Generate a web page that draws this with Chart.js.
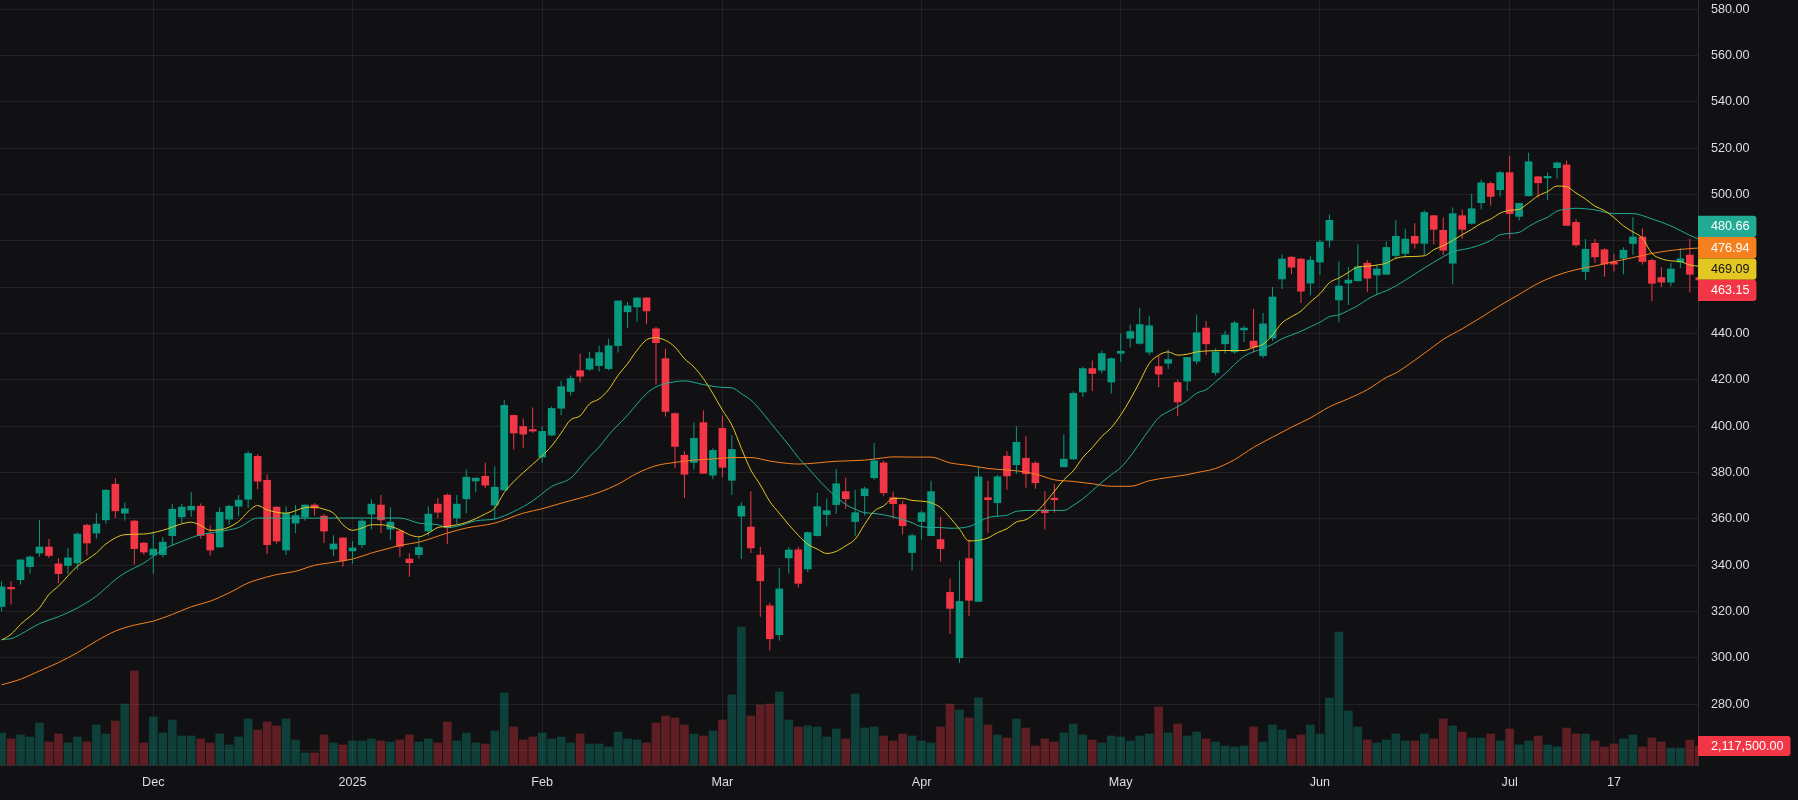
<!DOCTYPE html>
<html>
<head>
<meta charset="utf-8">
<script src="https://cdn.jsdelivr.net/npm/chart.js@4.4.1/dist/chart.umd.min.js"></script>
<style>
  html, body { margin: 0; padding: 0; background: #111113; }
  #wrap { width: 1798px; height: 800px; }
</style>
</head>
<body>
<div id="wrap"><canvas id="priceChart" width="1798" height="800"></canvas></div>
<script>
// daily candles, index 0 = first visible session (Dec 2 is index 16, last one is cut by the axis)
const opens = [
  322.2, 330.5, 333.8, 339.4, 345.3, 347.9, 340.6, 339.9, 341.0, 357.3,
  353.9, 359.6, 375.0, 362.5, 359.1, 349.6, 344.4, 344.6, 352.8, 360.9,
  363.9, 365.5, 353.5, 347.9, 359.9, 365.5, 368.5, 387.0, 376.7, 365.1,
  346.6, 358.2, 360.8, 366.0, 361.2, 347.0, 351.8, 346.2, 348.9, 362.1,
  366.0, 355.6, 354.8, 342.7, 344.6, 354.8, 366.4, 370.3, 360.4, 368.7,
  376.4, 378.4, 366.0, 372.5, 404.7, 399.9, 398.6, 386.7, 396.2, 407.8,
  415.0, 424.0, 424.6, 426.2, 424.9, 434.8, 449.4, 451.5, 455.4, 442.1,
  429.2, 405.5, 387.5, 384.4, 401.6, 378.9, 399.1, 376.7, 361.2, 356.5,
  344.4, 322.5, 310.0, 343.2, 346.7, 338.4, 352.8, 361.9, 366.2, 371.8,
  358.9, 370.0, 377.8, 384.2, 369.2, 366.2, 345.5, 358.9, 352.8, 351.1,
  328.3, 300.1, 342.9, 324.4, 369.2, 367.0, 387.1, 383.4, 386.2, 384.1,
  363.9, 369.0, 382.5, 385.9, 414.8, 424.9, 424.2, 419.1, 431.5, 438.0,
  435.8, 432.0, 425.8, 427.2, 418.9, 419.5, 428.1, 442.4, 423.2, 435.6,
  432.1, 441.6, 436.8, 430.5, 438.1, 463.6, 473.0, 472.2, 461.8, 470.9,
  480.3, 454.5, 461.8, 462.8, 470.4, 465.3, 465.6, 473.7, 474.6, 482.0,
  479.0, 490.9, 484.6, 470.4, 490.9, 487.6, 496.5, 504.8, 502.1, 509.5,
  490.6, 499.5, 507.7, 507.2, 511.6, 512.8, 488.0, 466.8, 479.0, 476.2,
  470.9, 472.5, 478.9, 481.7, 471.6, 464.2, 462.2, 470.9, 473.9, 464.2
];
const highs = [
  333.1, 333.1, 342.7, 344.2, 359.5, 351.3, 343.2, 347.5, 354.2, 357.8,
  362.5, 372.8, 377.6, 367.2, 359.5, 350.0, 354.6, 352.2, 366.5, 366.5,
  371.5, 366.7, 357.2, 365.1, 366.1, 370.3, 389.2, 387.9, 379.3, 365.5,
  365.5, 366.0, 366.2, 366.8, 362.1, 353.0, 352.0, 350.5, 360.1, 368.5,
  370.3, 365.1, 355.2, 345.2, 352.0, 365.5, 369.0, 371.0, 370.3, 381.4,
  378.0, 384.4, 382.7, 411.5, 405.0, 403.4, 408.1, 399.9, 408.5, 419.7,
  421.9, 431.3, 432.2, 434.8, 437.8, 454.3, 453.7, 455.6, 455.8, 442.9,
  433.5, 406.0, 389.2, 401.6, 406.8, 390.5, 404.7, 396.1, 367.2, 372.0,
  347.9, 323.8, 338.9, 347.9, 348.0, 354.6, 371.3, 368.7, 381.6, 377.8,
  372.6, 373.9, 392.8, 385.1, 371.8, 367.9, 353.7, 363.6, 376.5, 361.0,
  334.3, 342.1, 351.1, 382.9, 376.5, 379.1, 389.2, 400.0, 395.7, 384.9,
  372.0, 375.1, 396.6, 415.1, 425.8, 428.4, 432.7, 429.7, 440.0, 443.9,
  451.2, 447.7, 430.5, 433.1, 420.2, 429.9, 448.2, 445.4, 433.7, 441.1,
  445.4, 443.4, 450.7, 448.9, 460.1, 474.2, 473.4, 472.6, 473.4, 480.4,
  491.4, 471.2, 468.7, 478.5, 471.7, 469.6, 479.8, 488.9, 485.3, 487.6,
  493.2, 491.2, 490.1, 494.4, 493.6, 500.4, 506.5, 505.6, 510.2, 516.7,
  496.5, 518.1, 508.1, 509.5, 514.2, 514.6, 489.4, 480.8, 480.8, 476.8,
  474.4, 477.3, 490.2, 485.4, 472.3, 468.6, 470.5, 476.8, 480.8, 464.8
];
const lows = [
  320.2, 323.1, 331.7, 336.4, 343.7, 343.2, 332.4, 336.4, 338.1, 344.2,
  351.5, 357.9, 360.4, 359.2, 340.3, 344.6, 336.4, 343.4, 348.5, 358.2,
  360.9, 351.5, 344.2, 347.6, 357.5, 361.2, 364.7, 372.8, 344.9, 349.3,
  344.4, 353.9, 359.2, 361.5, 349.6, 344.0, 339.4, 340.7, 347.5, 355.6,
  353.9, 350.9, 343.7, 335.1, 342.9, 352.8, 360.4, 349.2, 357.8, 362.5,
  371.5, 373.3, 359.8, 372.3, 390.0, 390.6, 397.1, 384.2, 395.8, 404.8,
  413.3, 419.0, 424.0, 423.7, 424.2, 431.8, 442.5, 445.1, 444.2, 418.0,
  404.2, 381.9, 369.0, 381.4, 379.5, 377.1, 378.0, 370.3, 342.7, 345.3,
  317.8, 303.2, 307.5, 336.3, 330.4, 337.1, 352.4, 356.7, 362.3, 364.4,
  352.8, 361.4, 376.9, 370.0, 360.1, 353.3, 337.8, 351.1, 352.6, 341.6,
  310.3, 297.8, 318.0, 324.2, 354.1, 360.8, 372.6, 379.5, 373.5, 373.0,
  355.4, 362.7, 382.3, 385.7, 412.6, 415.2, 422.9, 414.2, 427.7, 434.0,
  435.3, 430.7, 416.9, 424.7, 404.4, 415.2, 426.8, 430.8, 421.9, 431.3,
  431.3, 436.4, 431.9, 429.5, 436.8, 459.3, 465.6, 453.2, 456.6, 465.3,
  477.2, 444.9, 452.3, 462.5, 458.0, 456.9, 465.3, 472.3, 472.7, 476.7,
  473.9, 478.5, 473.9, 461.3, 480.9, 487.1, 493.6, 495.3, 499.2, 481.1,
  488.8, 499.3, 498.8, 497.6, 507.0, 486.4, 477.3, 463.1, 470.6, 464.5,
  466.8, 465.6, 473.9, 469.8, 454.0, 460.1, 460.4, 468.2, 457.8, 462.9
];
const closes = [
  330.7, 329.8, 342.3, 343.6, 347.9, 344.2, 336.4, 343.2, 353.5, 349.6,
  357.8, 372.4, 363.5, 364.4, 347.2, 345.7, 347.0, 350.0, 364.2, 365.1,
  365.5, 352.9, 346.6, 362.9, 365.5, 368.1, 388.3, 376.3, 348.9, 350.5,
  362.4, 361.5, 366.0, 364.7, 354.8, 349.2, 342.0, 347.5, 359.1, 366.4,
  359.6, 358.6, 348.2, 341.1, 347.7, 362.1, 362.9, 356.3, 366.4, 378.0,
  377.6, 374.6, 373.7, 409.0, 397.1, 396.6, 397.9, 397.8, 407.7, 417.1,
  420.6, 421.6, 429.2, 431.8, 434.8, 454.1, 452.0, 455.4, 449.8, 436.1,
  406.4, 391.3, 379.3, 394.8, 379.7, 389.6, 382.3, 390.0, 365.5, 347.5,
  333.3, 308.3, 329.8, 346.6, 332.2, 354.1, 365.3, 363.6, 375.2, 368.7,
  362.7, 373.0, 385.1, 371.3, 366.6, 357.1, 352.8, 362.7, 371.8, 347.2,
  321.4, 324.4, 324.9, 378.2, 368.3, 378.2, 378.6, 393.1, 379.5, 375.6,
  362.7, 368.3, 385.8, 414.2, 424.9, 422.8, 431.4, 429.2, 432.4, 440.9,
  443.9, 443.4, 422.5, 428.8, 410.5, 429.7, 440.4, 435.6, 432.1, 439.4,
  444.6, 442.4, 434.1, 444.2, 455.8, 472.2, 468.7, 458.3, 471.7, 479.5,
  488.9, 460.5, 463.1, 468.8, 463.9, 467.9, 477.2, 482.0, 480.8, 479.0,
  492.3, 485.0, 476.0, 491.8, 485.0, 493.9, 505.1, 499.2, 509.5, 491.8,
  496.2, 514.2, 505.1, 507.9, 513.7, 486.7, 478.3, 476.4, 473.1, 470.0,
  470.0, 476.0, 481.7, 471.1, 461.7, 462.2, 467.9, 472.3, 465.6, 463.15
];
// volume in thousands of shares
const volumesK = [
  3566, 2898, 3344, 3121, 4681, 2563, 3455, 2452, 3121, 2563,
  4458, 3455, 4904, 6798, 10476, 2452, 5350, 3566, 5015, 3232,
  3232, 2898, 2452, 3455, 2229, 3121, 5127, 3901, 4792, 4347,
  5127, 2786, 1337, 1337, 3344, 2452, 2229, 2675, 2675, 2898,
  2675, 2563, 2786, 3344, 2563, 2898, 2452, 4792, 2675, 3566,
  2452, 2340, 3789, 8024, 4235, 2786, 3121, 3566, 2898, 3121,
  2452, 3455, 2340, 2340, 2006, 3678, 2898, 2786, 2452, 4681,
  5461, 5238, 4458, 3455, 3232, 3789, 5015, 7802, 15380, 5461,
  6687, 6798, 8136, 5015, 4235, 4347, 4235, 3121, 4012, 2898,
  7913, 4124, 4235, 3232, 2675, 3455, 3232, 2675, 2452, 4235,
  6798, 6130, 5238, 7467, 4458, 3344, 3009, 5127, 4124, 2118,
  2898, 2563, 3566, 4569, 3344, 2786, 2452, 3232, 3121, 2675,
  3232, 3455, 6464, 3566, 4569, 3232, 3678, 2898, 2563, 2118,
  2006, 2118, 4235, 2563, 4458, 3901, 2898, 3344, 4458, 3455,
  7467, 14823, 6018, 4235, 2786, 2452, 2786, 3455, 2675, 2675,
  3455, 2898, 5127, 4347, 3678, 3009, 3009, 3455, 2675, 4012,
  2229, 2675, 3232, 2229, 2006, 4124, 3455, 3455, 2675, 2006,
  2340, 2898, 3344, 2006, 3009, 2563, 1895, 1895, 2786, 2117.5
];

// moving averages: [candle index, value]
const maFast = [
  [0,307.7],[1,310.2],[2,314.5],[4,321.6],[5,327.4],[6,331.0],[8,339.6],[9,342.4],[10,345.3],[11,349.2],
  [13,353.2],[15,353.5],[17,355.1],[19,357.9],[20,358.6],[21,357.2],[22,355.1],[23,355.3],[25,358.9],[26,363.2],
  [27,365.8],[28,363.9],[30,362.5],[32,364.9],[33,365.1],[34,364.2],[35,362.5],[36,357.5],[37,355.1],[38,356.1],
  [39,357.5],[40,357.5],[41,356.8],[42,355.3],[43,353.2],[44,352.3],[45,353.9],[46,356.3],[47,356.8],[49,358.5],
  [51,362.2],[52,364.7],[53,371.4],[54,376.1],[55,380.0],[57,387.3],[58,391.5],[59,397.1],[60,402.8],[61,404.5],
  [62,409.7],[63,411.8],[64,415.8],[65,422.0],[66,427.0],[67,432.8],[68,437.3],[69,438.2],[70,437.1],[71,434.2],
  [72,429.2],[73,425.6],[74,420.6],[75,414.1],[76,407.0],[77,400.5],[78,390.5],[79,381.1],[80,374.7],[81,367.5],
  [82,362.5],[83,357.5],[84,353.0],[85,349.1],[86,347.0],[87,345.1],[88,346.0],[89,348.4],[90,351.3],[91,357.7],
  [92,363.4],[93,365.6],[94,368.9],[95,368.9],[96,368.0],[97,367.7],[98,367.0],[99,364.9],[100,360.6],[101,355.6],
  [102,350.5],[103,350.8],[104,351.8],[105,354.1],[106,355.8],[107,358.7],[108,359.7],[109,362.6],[110,366.9],[111,371.9],
  [112,376.9],[113,380.8],[114,386.5],[115,390.8],[116,395.6],[117,399.4],[118,404.9],[119,411.6],[120,419.2],[121,427.1],
  [122,430.7],[123,432.1],[124,430.7],[125,431.1],[126,432.1],[127,432.5],[129,432.7],[131,432.7],[132,434.1],[133,435.4],
  [134,439.4],[135,444.6],[136,447.3],[137,449.7],[138,453.7],[139,457.2],[140,462.0],[141,464.0],[142,466.4],[143,468.8],
  [144,469.1],[145,469.6],[146,470.4],[147,472.5],[148,473.2],[150,473.6],[151,476.2],[152,478.0],[153,480.2],[154,482.7],
  [155,485.0],[156,487.6],[157,489.4],[158,492.0],[159,493.2],[160,493.7],[161,496.4],[162,499.5],[163,501.3],[164,503.7],
  [165,503.4],[166,500.7],[167,498.1],[168,495.0],[169,493.1],[170,490.1],[171,486.5],[172,483.9],[173,481.2],[174,474.6],
  [175,472.3],[176,471.4],[177,471.1],[178,469.6],[179,469.09]
];
const maMid = [
  [0,308.0],[1,308.3],[2,310.2],[4,314.8],[6,317.8],[8,321.6],[10,326.7],[12,333.8],[13,336.7],[15,341.0],
  [17,346.7],[19,350.3],[21,353.2],[23,354.6],[25,356.3],[27,360.4],[31,360.3],[35,360.4],[39,360.4],[42,360.4],
  [44,358.2],[46,357.5],[47,356.3],[48,356.8],[50,359.2],[52,360.0],[54,363.2],[56,367.8],[58,374.0],[60,377.6],
  [61,382.0],[62,386.9],[63,391.0],[64,396.2],[66,404.8],[68,414.1],[69,417.0],[70,418.4],[72,419.6],[74,418.0],
  [76,416.8],[77,416.6],[78,414.1],[79,411.3],[80,407.0],[81,401.9],[82,396.9],[83,391.9],[84,386.5],[85,382.1],
  [87,373.2],[89,366.3],[90,364.2],[91,362.7],[92,362.4],[94,360.9],[96,358.4],[97,356.6],[99,356.3],[100,356.0],
  [102,356.7],[104,360.6],[105,361.2],[106,361.6],[107,363.3],[109,363.7],[112,363.7],[113,365.9],[114,368.7],[115,372.2],
  [116,375.8],[117,379.1],[118,382.2],[119,387.0],[120,392.7],[121,398.5],[122,403.7],[123,406.3],[124,408.5],[125,411.0],
  [126,414.3],[127,415.8],[128,419.2],[129,422.7],[130,426.7],[131,430.2],[132,432.2],[133,433.5],[134,435.4],[135,437.8],
  [136,439.4],[137,441.0],[138,443.0],[139,444.9],[140,447.3],[141,448.1],[142,450.0],[143,452.1],[144,454.8],[145,456.9],
  [146,458.5],[147,460.6],[148,463.1],[150,468.3],[152,473.2],[153,475.3],[155,477.1],[157,480.2],[158,482.7],[160,483.7],
  [161,486.2],[162,488.5],[163,490.2],[164,492.9],[165,493.7],[166,494.1],[168,493.4],[170,491.8],[172,491.8],[174,489.5],
  [176,486.5],[177,484.5],[178,482.4],[179,480.66]
];
const maSlow = [
  [0,288.4],[2,290.8],[4,294.4],[6,298.0],[8,302.3],[10,307.3],[12,311.6],[14,314.2],[16,315.9],[18,318.8],
  [20,322.1],[22,324.5],[24,328.1],[26,332.4],[27,333.8],[29,336.0],[31,337.4],[33,340.0],[35,341.3],[37,342.7],
  [39,345.3],[41,347.5],[42,348.6],[44,350.0],[47,353.9],[49,356.1],[52,358.2],[55,362.5],[57,364.4],[59,366.8],
  [61,369.0],[63,371.5],[65,375.0],[67,379.7],[69,383.0],[71,384.4],[73,385.4],[75,385.9],[77,386.5],[79,386.5],
  [81,385.0],[82,384.4],[84,383.7],[88,384.9],[91,385.4],[93,386.4],[94,386.8],[96,386.7],[98,386.7],[100,384.2],
  [102,383.1],[104,381.8],[105,381.4],[107,380.8],[109,379.4],[111,376.9],[113,376.2],[115,375.2],[117,374.1],[119,374.1],
  [121,376.5],[123,377.9],[125,379.1],[126,380.0],[128,381.8],[130,385.6],[132,390.9],[134,395.3],[136,399.6],[138,403.6],
  [140,408.4],[142,411.9],[144,415.8],[146,421.1],[147,423.0],[149,428.5],[151,434.5],[152,437.5],[154,442.1],[156,447.0],
  [158,452.2],[160,456.9],[162,461.7],[164,465.2],[166,467.6],[168,469.2],[170,471.1],[172,472.8],[174,474.6],[176,475.9],
  [178,476.7],[179,476.94]
];

const timeTickIdx = [16, 37, 57, 76, 97, 118, 139, 159, 170];
const timeTickLabels = ['Dec', '2025', 'Feb', 'Mar', 'Apr', 'May', 'Jun', 'Jul', '17'];
const priceTicks = [260, 280, 300, 320, 340, 360, 380, 400, 420, 440, 460, 480, 500, 520, 540, 560, 580];

const UP = '#089981';
const DOWN = '#f23645';
const GRID = 'rgba(255,255,255,0.075)';
const TEXT = '#dcdde0';
const FONT = 'Arial, "Liberation Sans", sans-serif';
const FONT_SIZE = 12.6;

const isUp = closes.map((c, i) => c >= opens[i]);
const candleColors = isUp.map(u => (u ? UP : DOWN));
const volColors = isUp.map(u => (u ? 'rgba(8,153,129,0.35)' : 'rgba(242,54,69,0.35)'));

// paint the dark background
const bgPlugin = {
  id: 'bg',
  beforeDraw(chart) {
    const ctx = chart.ctx;
    ctx.save();
    ctx.fillStyle = '#111113';
    ctx.fillRect(0, 0, chart.width, chart.height);
    ctx.restore();
  }
};

// coloured value tags on the price axis
const tagPlugin = {
  id: 'tags',
  afterDraw(chart) {
    const { ctx, chartArea, scales } = chart;
    const h = 21.3;
    const tags = [
      { value: maMid[maMid.length - 1][1], bg: '#22ab94', fg: '#ffffff' },
      { value: maSlow[maSlow.length - 1][1], bg: '#f7801e', fg: '#ffffff' },
      { value: maFast[maFast.length - 1][1], bg: '#e3c722', fg: '#131313' },
      { value: closes[closes.length - 1], bg: DOWN, fg: '#ffffff' }
    ];
    tags.forEach(t => { t.y = scales.y.getPixelForValue(t.value); });
    tags.sort((a, b) => a.y - b.y);

    // merge overlapping tags into stacks centred on their mean
    let groups = tags.map(t => ({ items: [t], center: t.y }));
    let merged = true;
    while (merged) {
      merged = false;
      for (let i = 0; i < groups.length - 1; i++) {
        const a = groups[i], b = groups[i + 1];
        if (a.center + a.items.length * h / 2 > b.center - b.items.length * h / 2) {
          const items = a.items.concat(b.items);
          const center = items.reduce((s, t) => s + t.y, 0) / items.length;
          groups.splice(i, 2, { items, center });
          merged = true;
          break;
        }
      }
    }

    ctx.save();
    ctx.font = FONT_SIZE + 'px ' + FONT;
    ctx.textBaseline = 'middle';
    ctx.textAlign = 'left';
    const x = chartArea.right;
    groups.forEach(g => {
      let top = g.center - g.items.length * h / 2;
      g.items.forEach(t => {
        ctx.fillStyle = t.bg;
        ctx.beginPath();
        ctx.roundRect(x, top, 58.4, h, [0, 3, 3, 0]);
        ctx.fill();
        ctx.fillStyle = t.fg;
        ctx.fillText(t.value.toFixed(2), x + 13, top + h / 2 + 0.5);
        top += h;
      });
    });

    // last volume tag
    const lastK = volumesK[volumesK.length - 1];
    const vy = scales.vol.getPixelForValue(lastK);
    ctx.fillStyle = DOWN;
    ctx.beginPath();
    ctx.roundRect(x, vy - 10, 92.5, 20, [0, 3, 3, 0]);
    ctx.fill();
    ctx.fillStyle = '#ffffff';
    ctx.fillText((lastK * 1000).toLocaleString('en-US', { minimumFractionDigits: 2, maximumFractionDigits: 2 }), x + 13, vy + 0.5);
    ctx.restore();
  }
};

const lineDataset = (pts, color) => ({
  type: 'line',
  data: pts.map(p => ({ x: p[0], y: p[1] })),
  borderColor: color,
  borderWidth: 1,
  pointRadius: 0,
  cubicInterpolationMode: 'monotone',
  yAxisID: 'y',
  order: 1
});

const ctx = document.getElementById('priceChart').getContext('2d');
new Chart(ctx, {
  type: 'bar',
  data: {
    datasets: [
      lineDataset(maFast, '#e3c722'),
      lineDataset(maMid, '#22ab94'),
      lineDataset(maSlow, '#f7801e'),
      {
        // candle bodies
        data: opens.map((o, i) => ({ x: i, y: [o, closes[i]] })),
        backgroundColor: candleColors,
        barThickness: 7,
        minBarLength: 1,
        grouped: false,
        yAxisID: 'y',
        order: 2
      },
      {
        // wicks
        data: lows.map((l, i) => ({ x: i, y: [l, highs[i]] })),
        backgroundColor: candleColors,
        barThickness: 1,
        inflateAmount: 0,
        grouped: false,
        yAxisID: 'y',
        order: 3
      },
      {
        data: volumesK.map((v, i) => ({ x: i, y: v })),
        backgroundColor: volColors,
        barThickness: 8,
        grouped: false,
        yAxisID: 'vol',
        order: 10
      }
    ]
  },
  options: {
    responsive: false,
    animation: false,
    devicePixelRatio: 1,
    layout: { padding: 0 },
    plugins: {
      legend: { display: false },
      tooltip: { enabled: false }
    },
    scales: {
      x: {
        type: 'linear',
        min: -0.162,
        max: 178.86,
        offset: false,
        grid: { color: GRID, offset: false, drawTicks: false },
        border: { display: true, color: 'rgba(255,255,255,0.12)' },
        afterBuildTicks: (scale) => {
          scale.ticks = timeTickIdx.map(v => ({ value: v }));
        },
        afterFit: (scale) => {
          scale.height = 35;
          scale.paddingLeft = 0;
          scale.paddingRight = 0;
        },
        ticks: {
          autoSkip: false,
          maxRotation: 0,
          padding: 10,
          color: TEXT,
          font: { family: FONT, size: FONT_SIZE },
          callback: (v) => timeTickLabels[timeTickIdx.indexOf(v)]
        }
      },
      y: {
        type: 'linear',
        position: 'right',
        min: 253.8,
        max: 584.0,
        grid: { color: GRID, drawTicks: false },
        border: { display: true, color: 'rgba(255,255,255,0.12)' },
        afterBuildTicks: (scale) => {
          scale.ticks = priceTicks.map(v => ({ value: v }));
        },
        afterFit: (scale) => {
          scale.width = 100;
          scale.paddingTop = 0;
          scale.paddingBottom = 0;
        },
        ticks: {
          padding: 13,
          color: TEXT,
          font: { family: FONT, size: FONT_SIZE },
          callback: (v) => Number(v).toFixed(2)
        }
      },
      vol: {
        type: 'linear',
        display: false,
        min: 0,
        max: 85250
      }
    }
  },
  plugins: [bgPlugin, tagPlugin]
});
</script>
</body>
</html>
